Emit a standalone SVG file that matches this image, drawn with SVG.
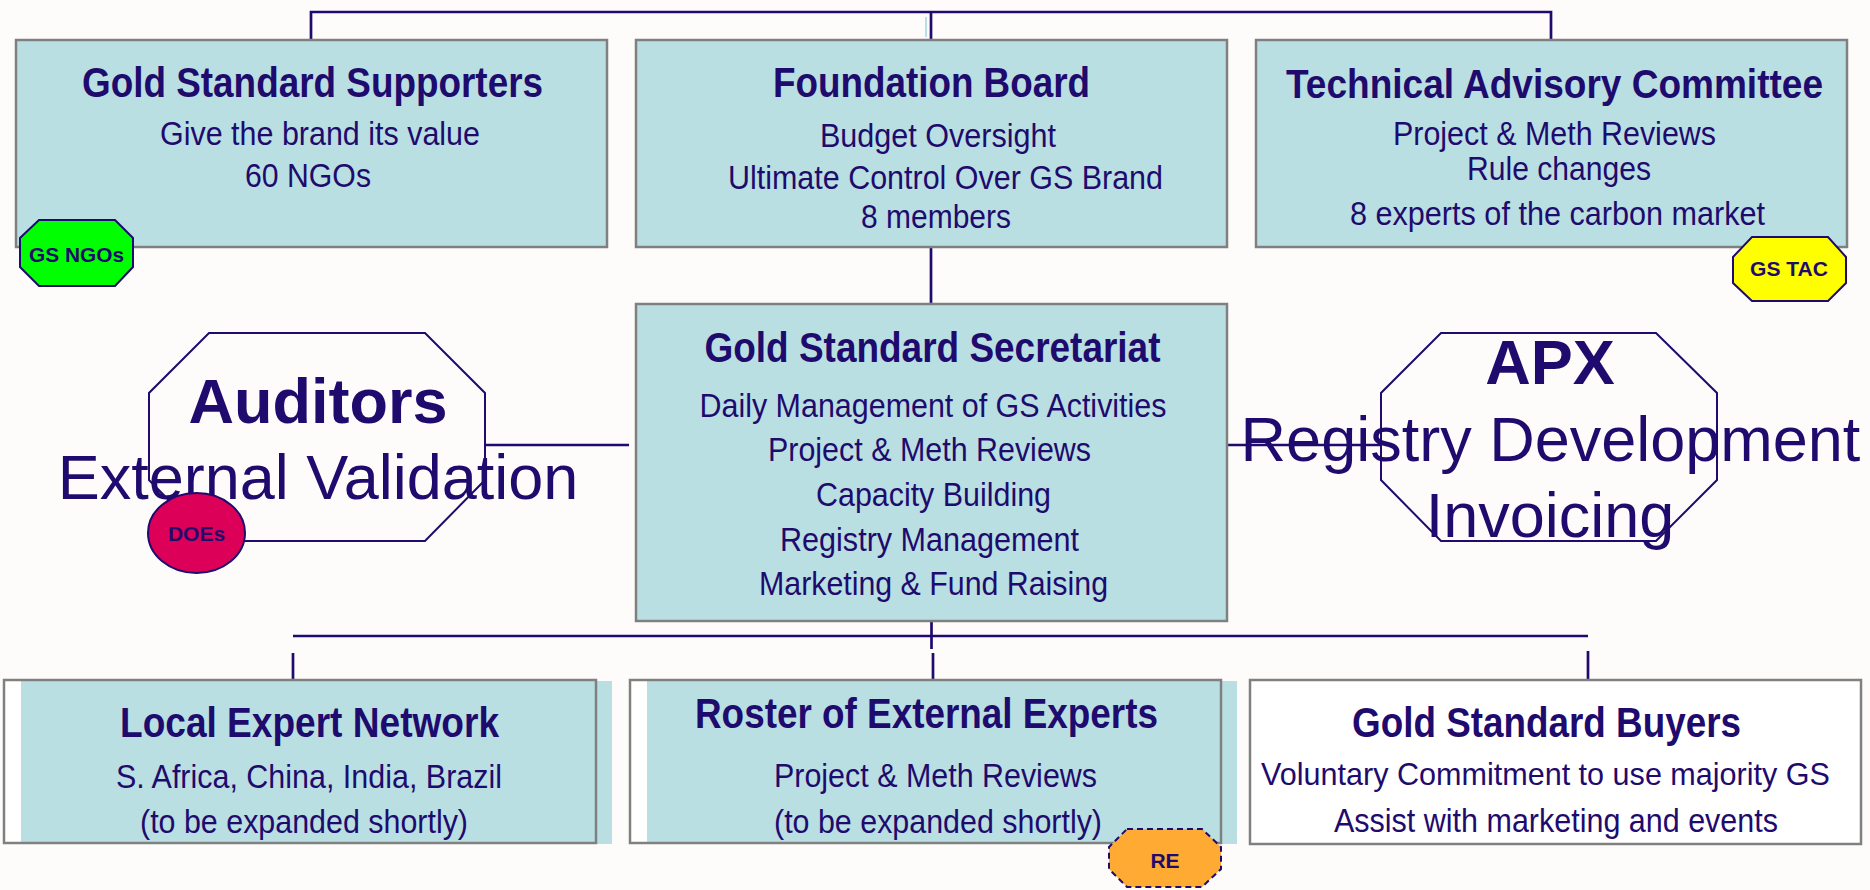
<svg xmlns="http://www.w3.org/2000/svg" width="1870" height="890" viewBox="0 0 1870 890">
<style>
.t{font-family:"Liberation Sans",Arial,sans-serif;fill:#1e0b6d}
.h{font-size:43px;font-weight:bold}
.b{font-size:34px}
.big{font-size:63px}
.bg{font-size:21px;font-weight:bold}
.box{fill:#b9dfe3;stroke:#808080;stroke-width:2.5}
.frame{fill:none;stroke:#808080;stroke-width:2.5}
.oct{fill:none;stroke:#1e0b6d;stroke-width:2}
.con{fill:none;stroke:#1e0b6d;stroke-width:2.7}
</style>
<rect x="0" y="0" width="1870" height="890" fill="#fdfcfb"/>
<g id="connectors">
<path class="con" d="M311 40V12H1551V40"/>
<path class="con" d="M931 12V40"/>
<path d="M926 17V37" stroke="#b9dfe3" stroke-width="2"/>
<path class="con" d="M931 247V304"/>
<path class="con" d="M485 445H629"/>
<path class="con" d="M1221 445H1381"/>
<path class="con" d="M931.5 621V649"/>
<path class="con" d="M293 636H1588"/>
<path class="con" d="M293 653V680"/>
<path class="con" d="M933 653V680"/>
<path class="con" d="M1588 651V680"/>
</g>
<g id="supporters">
<rect class="box" x="16" y="40" width="591" height="207"/>
<text class="t h" x="82" y="97" textLength="461" lengthAdjust="spacingAndGlyphs">Gold Standard Supporters</text>
<text class="t b" x="160" y="145" textLength="320" lengthAdjust="spacingAndGlyphs">Give the brand its value</text>
<text class="t b" x="245" y="187" textLength="126" lengthAdjust="spacingAndGlyphs">60 NGOs</text>
</g>
<g id="gs-ngos">
<polygon points="39,220 115,220 133,238 133,267 115,286 39,286 20,267 20,238" fill="#00ff00" stroke="#1e0b6d" stroke-width="2"/>
<text class="t bg" x="76.5" y="262" text-anchor="middle" textLength="95" lengthAdjust="spacingAndGlyphs">GS NGOs</text>
</g>
<g id="foundation-board">
<rect class="box" x="636" y="40" width="591" height="207"/>
<text class="t h" x="773" y="97" textLength="317" lengthAdjust="spacingAndGlyphs">Foundation Board</text>
<text class="t b" x="820" y="147" textLength="236" lengthAdjust="spacingAndGlyphs">Budget Oversight</text>
<text class="t b" x="728" y="189" textLength="435" lengthAdjust="spacingAndGlyphs">Ultimate Control Over GS Brand</text>
<text class="t b" x="861" y="228" textLength="150" lengthAdjust="spacingAndGlyphs">8 members</text>
</g>
<g id="tac">
<rect class="box" x="1256" y="40" width="591" height="207"/>
<text class="t h" x="1554.5" y="98" text-anchor="middle" font-size="40" textLength="537" lengthAdjust="spacingAndGlyphs" style="font-size:40px">Technical Advisory Committee</text>
<text class="t b" x="1393" y="145" textLength="323" lengthAdjust="spacingAndGlyphs">Project &amp; Meth Reviews</text>
<text class="t b" x="1467" y="180" textLength="184" lengthAdjust="spacingAndGlyphs">Rule changes</text>
<text class="t b" x="1350" y="225" textLength="415" lengthAdjust="spacingAndGlyphs">8 experts of the carbon market</text>
</g>
<g id="gs-tac">
<polygon points="1752,237 1828,237 1846,257 1846,283 1828,301 1752,301 1733,283 1733,257" fill="#ffff00" stroke="#1e0b6d" stroke-width="2"/>
<text class="t bg" x="1789" y="276" text-anchor="middle" textLength="78" lengthAdjust="spacingAndGlyphs">GS TAC</text>
</g>
<g id="secretariat">
<rect class="box" x="636" y="304" width="591" height="317"/>
<text class="t h" x="704.5" y="362" textLength="456" lengthAdjust="spacingAndGlyphs">Gold Standard Secretariat</text>
<text class="t b" x="699.5" y="417" textLength="467" lengthAdjust="spacingAndGlyphs">Daily Management of GS Activities</text>
<text class="t b" x="768" y="461" textLength="323" lengthAdjust="spacingAndGlyphs">Project &amp; Meth Reviews</text>
<text class="t b" x="816" y="506" textLength="235" lengthAdjust="spacingAndGlyphs">Capacity Building</text>
<text class="t b" x="780" y="551" textLength="299" lengthAdjust="spacingAndGlyphs">Registry Management</text>
<text class="t b" x="759" y="595" textLength="349" lengthAdjust="spacingAndGlyphs">Marketing &amp; Fund Raising</text>
</g>
<g id="auditors">
<polygon class="oct" points="209,333 425,333 485,393 485,480 425,541 209,541 149,480 149,393"/>
<text class="t big" x="318" y="423" text-anchor="middle" font-weight="bold">Auditors</text>
<text class="t big" x="318" y="499" text-anchor="middle">External Validation</text>
</g>
<g id="does">
<ellipse cx="196.5" cy="533" rx="48.5" ry="40" fill="#dc0058" stroke="#1e0b6d" stroke-width="2"/>
<text class="t bg" x="196.5" y="541" text-anchor="middle">DOEs</text>
</g>
<g id="apx">
<polygon class="oct" points="1441,333 1656,333 1717,393 1717,480 1656,541 1441,541 1381,480 1381,393"/>
<text class="t big" x="1550" y="384" text-anchor="middle" font-weight="bold">APX</text>
<text class="t big" x="1550.5" y="461" text-anchor="middle">Registry Development</text>
<text class="t big" x="1550" y="537" text-anchor="middle">Invoicing</text>
</g>
<g id="local-expert-network">
<rect x="4" y="680" width="592" height="163" fill="#ffffff"/>
<rect x="21" y="681" width="591" height="163" fill="#b9dfe3"/>
<rect class="frame" x="4" y="680" width="592" height="163"/>
<text class="t h" x="120" y="737" textLength="379" lengthAdjust="spacingAndGlyphs">Local Expert Network</text>
<text class="t b" x="116" y="788" textLength="386" lengthAdjust="spacingAndGlyphs">S. Africa, China, India, Brazil</text>
<text class="t b" x="140" y="833" textLength="328" lengthAdjust="spacingAndGlyphs">(to be expanded shortly)</text>
</g>
<g id="roster">
<rect x="630" y="680" width="591" height="163" fill="#ffffff"/>
<rect x="647" y="681" width="590" height="163" fill="#b9dfe3"/>
<rect class="frame" x="630" y="680" width="591" height="163"/>
<text class="t h" x="695" y="728" textLength="463" lengthAdjust="spacingAndGlyphs">Roster of External Experts</text>
<text class="t b" x="774" y="787" textLength="323" lengthAdjust="spacingAndGlyphs">Project &amp; Meth Reviews</text>
<text class="t b" x="774" y="833" textLength="328" lengthAdjust="spacingAndGlyphs">(to be expanded shortly)</text>
</g>
<g id="re">
<polygon points="1127,829 1202,829 1221,847 1221,869 1202,887 1127,887 1109,869 1109,847" fill="#ffaa33" stroke="#1e0b6d" stroke-width="2" stroke-dasharray="6,4"/>
<text class="t bg" x="1165" y="868" text-anchor="middle">RE</text>
</g>
<g id="buyers">
<rect x="1250" y="680" width="611" height="164" fill="#ffffff" stroke="#808080" stroke-width="2.5"/>
<text class="t h" x="1352" y="737" textLength="389" lengthAdjust="spacingAndGlyphs">Gold Standard Buyers</text>
<text class="t b" x="1545.5" y="785" text-anchor="middle" textLength="569" lengthAdjust="spacingAndGlyphs" style="font-size:32px">Voluntary Commitment to use majority GS</text>
<text class="t b" x="1334" y="832" textLength="444" lengthAdjust="spacingAndGlyphs">Assist with marketing and events</text>
</g>
</svg>
